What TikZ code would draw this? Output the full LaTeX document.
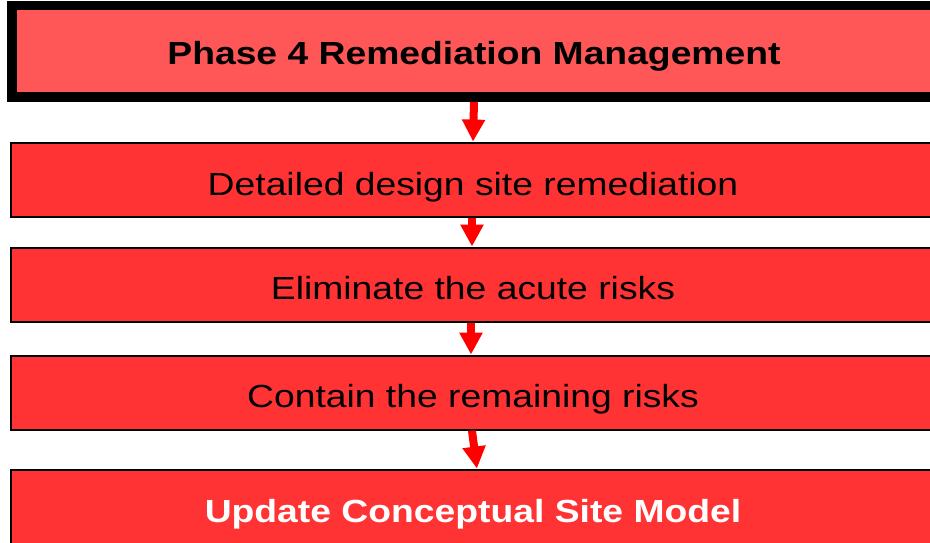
\documentclass[tikz,border=0pt]{standalone}
\usepackage{fontspec}
\setmainfont[FakeStretch=1.165]{Liberation Sans}
\usetikzlibrary{arrows.meta}
\definecolor{topred}{HTML}{FF5757}
\definecolor{boxred}{HTML}{FF3333}
\definecolor{arrred}{HTML}{FF0000}
\tikzset{
  stepbox/.style={draw=black, line width=1.5pt, fill=boxred, minimum width=924pt, minimum height=74pt, inner sep=0pt, text height=28pt, text depth=0pt, font=\fontsize{32}{38}\selectfont},
  topbox/.style={draw=black, line width=9.5pt, fill=topred, minimum width=924pt, minimum height=91.5pt, inner sep=0pt, text height=27pt, text depth=0pt, font=\fontsize{32}{38}\selectfont\bfseries},
  flow/.style={draw=arrred, line width=8pt, -{Triangle[width=22pt,length=22pt]}, arrred, shorten >=0.7pt}
}
\begin{document}
\begin{tikzpicture}[x=1pt,y=-1pt]
\useasboundingbox (0,0) rectangle (930,543);
\clip (0,0) rectangle (930,543);
\node[topbox] (top) at (474,51.5) {Phase 4 Remediation Management};
\node[stepbox, text height=30pt] (b2) at (473,180) {Detailed design site remediation};
\node[stepbox] (b3) at (473,285) {Eliminate the acute risks};
\node[stepbox] (b4) at (473,393) {Contain the remaining risks};
\node[stepbox, text=white, font=\fontsize{32}{38}\selectfont\bfseries, minimum height=76pt] (b5) at (473,508) {Update Conceptual Site Model};
\draw[flow] (top.south) -- (b2.north);
\draw[flow] ([xshift=-1pt]b2.south) -- ([xshift=-1pt]b3.north);
\draw[flow] ([xshift=-2pt]b3.south) -- ([xshift=-2pt]b4.north);
\draw[flow] ([xshift=-1pt]b4.south) -- ([xshift=4pt]b5.north);
\end{tikzpicture}
\end{document}
